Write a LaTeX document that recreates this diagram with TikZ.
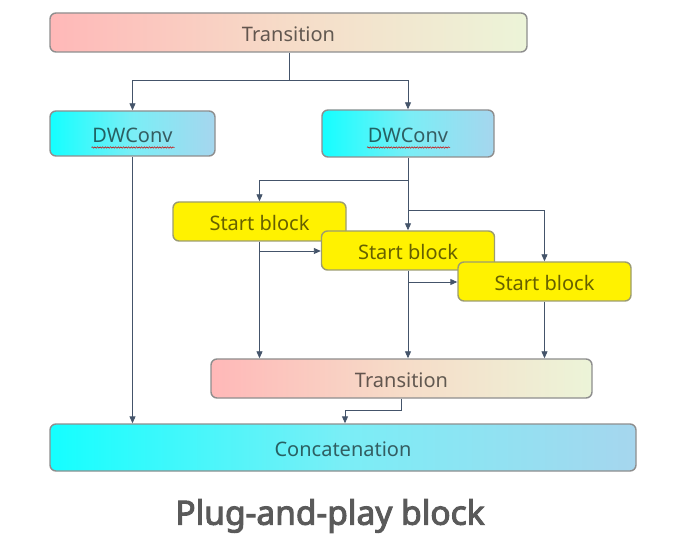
\documentclass[tikz,border=0pt]{standalone}
\usepackage{fontspec}
\setmainfont{Noto Sans}
\newfontfamily\titlefont{Noto Sans}[FakeBold=3]
\usetikzlibrary{arrows.meta,decorations.pathmorphing}
\definecolor{linec}{HTML}{44546A}
\definecolor{bordc}{HTML}{8E8E8E}
\definecolor{sbord}{HTML}{9C9C70}
\definecolor{trL}{HTML}{FFB8B8}
\definecolor{trM}{HTML}{F6DCC8}
\definecolor{trR}{HTML}{ECF4D8}
\definecolor{dwL}{HTML}{14FFFF}
\definecolor{dwM}{HTML}{7AEEF6}
\definecolor{dwR}{HTML}{A6D6EE}
\definecolor{titc}{HTML}{5A5A5A}
\tikzset{
  box/.style={draw=bordc, line width=1.4pt, rounded corners=6pt, inner sep=0pt,
    font=\fontsize{20}{23}\selectfont, text=black, text opacity=0.6,
    text height=17.5pt, text depth=0pt},
  trbox/.style={box, left color=trL, right color=trR, middle color=trM},
  dwbox/.style={box, left color=dwL, right color=dwR, middle color=dwM},
  sbbox/.style={box, draw=sbord, fill=yellow, minimum width=173pt, minimum height=39pt},
  conn/.style={draw=linec, line width=0.9pt},
  arr/.style={conn, -{Triangle[length=7pt,width=6pt]}},
  squig/.style={draw=red!80!black, line width=0.5pt, decorate,
    decoration={snake, amplitude=0.7pt, segment length=2.6pt}},
}
\begin{document}
\begin{tikzpicture}[x=1pt,y=-1pt]
\useasboundingbox (0,0) rectangle (683,545);
% nodes
\node[trbox, minimum width=477pt, minimum height=39pt] (T1) at (288.5,32.5) {Transition};
\node[dwbox, minimum width=165pt, minimum height=45pt] (DWL) at (132.5,133.5) {DWConv};
\node[dwbox, minimum width=172pt, minimum height=47pt] (DWR) at (408,133.5) {DWConv};
\node[trbox, minimum width=381pt, minimum height=39pt] (T2) at (401.5,378.5) {Transition};
\node[dwbox, minimum width=586pt, minimum height=47pt] (CC) at (343,447.5) {Concatenation};
\node[font=\titlefont\fontsize{33.5}{36}\selectfont, text=titc] (TT) at (330,516) {Plug-and-play block};
% spell-check squiggles
\draw[squig] ([xshift=-41pt,yshift=-14pt]DWL.center) -- ++(83,0);
\draw[squig] ([xshift=-41pt,yshift=-14pt]DWR.center) -- ++(83,0);
% connectors top
\coordinate (j1) at (289,80);
\draw[arr] (T1.south -| j1) -- (j1) -| (DWL.north);
\draw[arr] (j1) -| (DWR.north);
% from right DWConv
\coordinate (j2) at (408,180);
\coordinate (j3) at (408,210);
\draw[conn] (DWR.south) -- (j2);
% start blocks
\node[sbbox] (SB1) at (259.5,221.5) {Start block};
\node[sbbox] (SB2) at (408,250.5) {Start block};
\node[sbbox] (SB3) at (544.5,281.5) {Start block};
\draw[arr] (j2) -| (SB1.north);
\draw[arr] (j2) -- (SB2.north);
\draw[arr] (j3) -| (SB3.north);
% between start blocks
\coordinate (k1) at (259.5,251);
\coordinate (k2) at (408,282);
\draw[arr] (k1) -- (k1 -| SB2.west);
\draw[arr] (k2) -- (k2 -| SB3.west);
\draw[arr] (SB1.south) -- (SB1.south |- T2.north);
\draw[arr] (SB2.south) -- (SB2.south |- T2.north);
\draw[arr] (SB3.south) -- (SB3.south |- T2.north);
% to concatenation
\coordinate (j4) at (401.5,410);
\draw[arr] (T2.south) -- (j4) -| ([xshift=2pt]CC.north);
\draw[arr] (DWL.south) -- (DWL.south |- CC.north);
\end{tikzpicture}
\end{document}
